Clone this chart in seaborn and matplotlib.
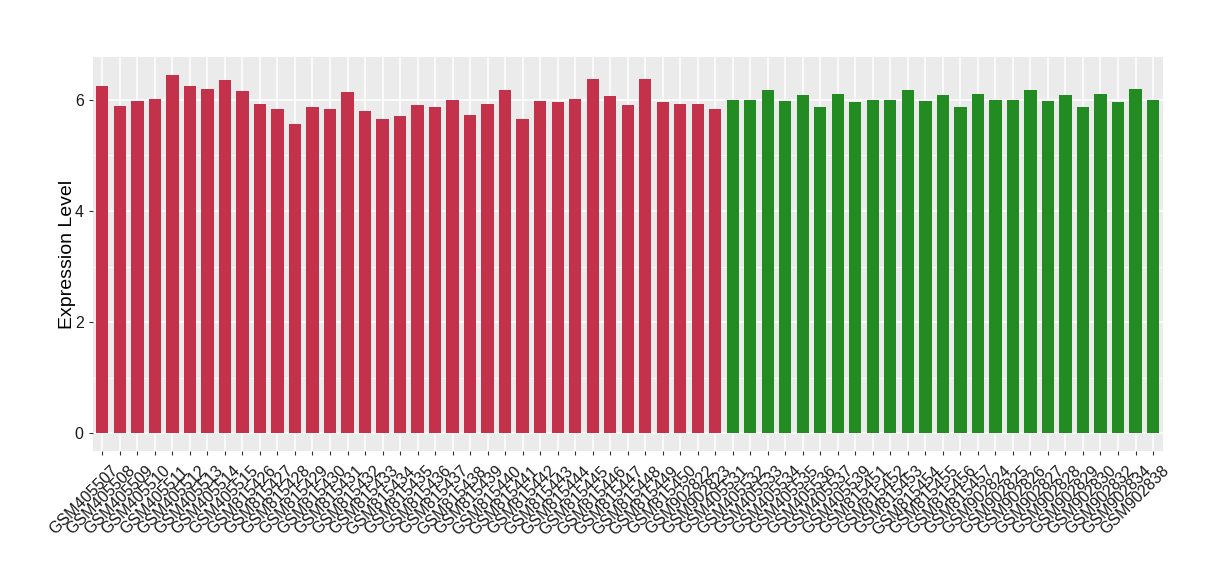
import matplotlib
matplotlib.use("Agg")
import matplotlib.pyplot as plt
import matplotlib.transforms as mtransforms
import seaborn as sns
import pandas as pd

# sample ids
red_samples = ["GSM405507", "GSM405508", "GSM405509", "GSM405510", "GSM405511", "GSM405512",
               "GSM405513", "GSM405514", "GSM405515", "GSM815426", "GSM815427", "GSM815428",
               "GSM815429", "GSM815430", "GSM815431", "GSM815432", "GSM815433", "GSM815434",
               "GSM815435", "GSM815436", "GSM815437", "GSM815438", "GSM815439", "GSM815440",
               "GSM815441", "GSM815442", "GSM815443", "GSM815444", "GSM815445", "GSM815446",
               "GSM815447", "GSM815448", "GSM815449", "GSM815450", "GSM902822", "GSM902823"]
green_samples = ["GSM405531", "GSM405532", "GSM405533", "GSM405534", "GSM405535", "GSM405536",
                 "GSM405537", "GSM405539", "GSM815451", "GSM815452", "GSM815453", "GSM815454",
                 "GSM815455", "GSM815456", "GSM815457", "GSM902824", "GSM902825", "GSM902826",
                 "GSM902827", "GSM902828", "GSM902829", "GSM902830", "GSM902832", "GSM902834",
                 "GSM902838"]

red_values = [6.24, 5.88, 5.97, 6.02, 6.44, 6.24, 6.19, 6.35, 6.15, 5.92, 5.83, 5.57,
              5.86, 5.83, 6.13, 5.79, 5.65, 5.70, 5.90, 5.86, 5.99, 5.72, 5.92, 6.17,
              5.66, 5.97, 5.95, 6.02, 6.38, 6.06, 5.90, 6.38, 5.95, 5.92, 5.92, 5.83]
green_values = [6.00, 5.99, 6.17, 5.97, 6.08, 5.86, 6.10, 5.95, 6.00, 5.99, 6.17, 5.97,
                6.08, 5.86, 6.10, 6.00, 5.99, 6.17, 5.97, 6.08, 5.86, 6.10, 5.95, 6.20,
                5.99]

df = pd.DataFrame({
    "sample": red_samples + green_samples,
    "value": red_values + green_values,
    "group": ["a"] * len(red_samples) + ["b"] * len(green_samples),
})

plt.rcParams["font.family"] = ["Liberation Sans", "DejaVu Sans"]

fig, ax = plt.subplots(figsize=(12.2, 5.8), dpi=100)
fig.subplots_adjust(left=0.076, right=0.953, top=0.902, bottom=0.222)

ax.set_facecolor("#EBEBEB")
sns.barplot(data=df, x="sample", y="value", hue="group",
            palette={"a": "#C3324A", "b": "#228B22"}, dodge=False, saturation=1,
            width=0.7, legend=False, ax=ax, zorder=3)

# ggplot-like grid
ax.set_ylim(-0.32, 6.77)
ax.set_xlim(-0.55, len(df) - 0.45)
ax.set_yticks([0, 2, 4, 6])
ax.set_yticks([1, 3, 5], minor=True)
ax.grid(True, which="major", color="white", linewidth=1.1, zorder=0)
ax.grid(True, which="minor", axis="y", color="white", linewidth=0.5, zorder=0)
ax.set_axisbelow(True)
for s in ax.spines.values():
    s.set_visible(False)

ax.tick_params(axis="both", which="major", length=3, color="#333333", labelsize=11.5,
               labelcolor="#1a1a1a")
ax.tick_params(axis="y", which="minor", length=0)
shift = mtransforms.ScaledTranslation(8 / 100, -3 / 100, fig.dpi_scale_trans)
for lab in ax.get_xticklabels():
    lab.set_rotation(45)
    lab.set_ha("right")
    lab.set_rotation_mode("anchor")
    lab.set_transform(lab.get_transform() + shift)

ax.set_xlabel("")
ax.set_ylabel("Expression Level", fontsize=14, labelpad=-1)

plt.savefig("out.png", dpi=100)
